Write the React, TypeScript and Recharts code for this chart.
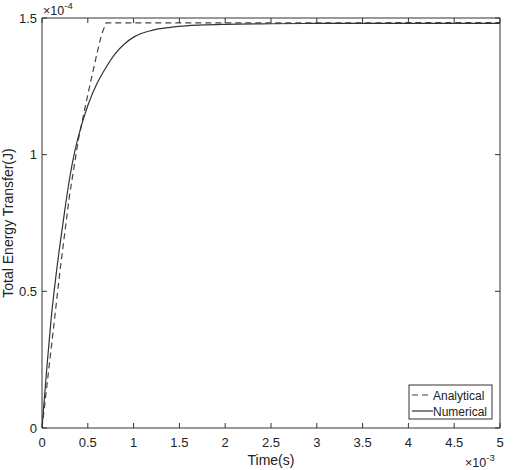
import React from 'react';
import { LineChart, Line, XAxis, YAxis, ReferenceLine, Label } from 'recharts';

// Time in units of 1e-3 s, energy in units of 1e-4 J
const numTime = [0, 0.05, 0.1, 0.15, 0.2, 0.25, 0.3, 0.35, 0.4, 0.5, 0.6, 0.7, 0.8, 0.9, 1.0, 1.2, 1.4, 1.6, 1.8, 2.0, 2.5, 3, 3.5, 4, 4.5, 5];
const numEnergy = [0, 0.21, 0.4, 0.55, 0.68, 0.8, 0.91, 1.0, 1.07, 1.18, 1.26, 1.32, 1.37, 1.405, 1.43, 1.455, 1.466, 1.472, 1.475, 1.477, 1.479, 1.48, 1.48, 1.48, 1.48, 1.48];

const anaTime = [0, 0.1, 0.2, 0.3, 0.4, 0.5, 0.6, 0.65, 0.7, 5];
const anaEnergy = [0, 0.29, 0.585, 0.85, 1.06, 1.22, 1.37, 1.44, 1.482, 1.483];

const xTicks = [0, 0.5, 1, 1.5, 2, 2.5, 3, 3.5, 4, 4.5, 5];
const yTicks = [0, 0.5, 1, 1.5];

const numericalData = numTime.map((t, i) => ({ t, v: numEnergy[i] }));
const analyticalData = anaTime.map((t, i) => ({ t, v: anaEnergy[i] }));

const W = 514;
const H = 470;
const PLOT_LEFT = 42;
const PLOT_RIGHT = 500;
const PLOT_TOP = 18;
const PLOT_BOTTOM = 428;
const AXIS = '#333';
const TEXT = '#222';
const FONT = '"Liberation Sans", Arial, sans-serif';

const XTick = (props: any) => {
  const { x, y, payload } = props;
  return (
    <g>
      <line x1={x} x2={x} y1={PLOT_BOTTOM} y2={PLOT_BOTTOM - 5} stroke={AXIS} strokeWidth={1} />
      <line x1={x} x2={x} y1={PLOT_TOP} y2={PLOT_TOP + 5} stroke={AXIS} strokeWidth={1} />
      <text x={x} y={y + 19} textAnchor="middle" fontSize={13} fill={TEXT} fontFamily={FONT}>
        {String(payload.value)}
      </text>
    </g>
  );
};

const YTick = (props: any) => {
  const { x, y, payload } = props;
  return (
    <g>
      <line x1={PLOT_LEFT} x2={PLOT_LEFT + 5} y1={y} y2={y} stroke={AXIS} strokeWidth={1} />
      <line x1={PLOT_RIGHT} x2={PLOT_RIGHT - 5} y1={y} y2={y} stroke={AXIS} strokeWidth={1} />
      <text x={x - 5} y={y + 4.5} textAnchor="end" fontSize={13} fill={TEXT} fontFamily={FONT}>
        {String(payload.value)}
      </text>
    </g>
  );
};

export default function App() {
  return (
    <div style={{ position: 'absolute', left: 0, top: 0, width: W, height: H, background: '#fff' }}>
      <LineChart
        width={W}
        height={H}
        margin={{ top: PLOT_TOP, right: W - PLOT_RIGHT, left: 0, bottom: 0 }}
        style={{ fontFamily: FONT }}
      >
        <XAxis
          dataKey="t"
          type="number"
          domain={[0, 5]}
          ticks={xTicks}
          height={H - PLOT_BOTTOM}
          tickSize={0}
          tickMargin={0}
          tickLine={false}
          tick={<XTick />}
          stroke={AXIS}
          allowDataOverflow
          interval={0}
        >
          <Label
            content={() => (
              <g>
                <text x={(PLOT_LEFT + PLOT_RIGHT) / 2} y={465} textAnchor="middle" fontSize={14} fill={TEXT} fontFamily={FONT}>
                  Time(s)
                </text>
                <text x={465} y={467} fontSize={12.5} fill={TEXT} fontFamily={FONT}>
                  ×10
                  <tspan dy={-6} fontSize={9.5}>-3</tspan>
                </text>
              </g>
            )}
          />
        </XAxis>
        <YAxis
          type="number"
          domain={[0, 1.5]}
          ticks={yTicks}
          width={PLOT_LEFT}
          tickSize={0}
          tickMargin={0}
          tickLine={false}
          tick={<YTick />}
          stroke={AXIS}
          allowDataOverflow
          interval={0}
        >
          <Label
            content={() => (
              <g>
                <text
                  x={13}
                  y={(PLOT_TOP + PLOT_BOTTOM) / 2}
                  transform={`rotate(-90, 13, ${(PLOT_TOP + PLOT_BOTTOM) / 2})`}
                  textAnchor="middle"
                  fontSize={14}
                  fill={TEXT}
                  fontFamily={FONT}
                >
                  Total Energy Transfer(J)
                </text>
                <text x={43} y={15} fontSize={12.5} fill={TEXT} fontFamily={FONT}>
                  ×10
                  <tspan dy={-6} fontSize={9.5}>-4</tspan>
                </text>
              </g>
            )}
          />
        </YAxis>
        <ReferenceLine y={1.5} stroke={AXIS} strokeWidth={1} ifOverflow="visible" />
        <ReferenceLine x={5} stroke={AXIS} strokeWidth={1} ifOverflow="visible" />
        <Line
          data={analyticalData}
          dataKey="v"
          type="linear"
          stroke="#444"
          strokeWidth={1.2}
          strokeDasharray="6 4"
          dot={false}
          isAnimationActive={false}
        />
        <Line
          data={numericalData}
          dataKey="v"
          type="monotone"
          stroke="#333"
          strokeWidth={1.2}
          dot={false}
          isAnimationActive={false}
        />
        <ReferenceLine
          y={0}
          stroke="none"
          ifOverflow="visible"
          label={() => (
            <g>
              <rect x={409} y={385} width={83} height={34} fill="#fff" stroke={AXIS} strokeWidth={1} />
              <line x1={412} x2={432} y1={395} y2={395} stroke="#444" strokeWidth={1.2} strokeDasharray="6 4" />
              <text x={433} y={399.5} fontSize={12} fill={TEXT} fontFamily={FONT}>Analytical</text>
              <line x1={412} x2={433} y1={411} y2={411} stroke="#333" strokeWidth={1.2} />
              <text x={433} y={415.5} fontSize={12} fill={TEXT} fontFamily={FONT}>Numerical</text>
            </g>
          )}
        />
      </LineChart>
    </div>
  );
}
